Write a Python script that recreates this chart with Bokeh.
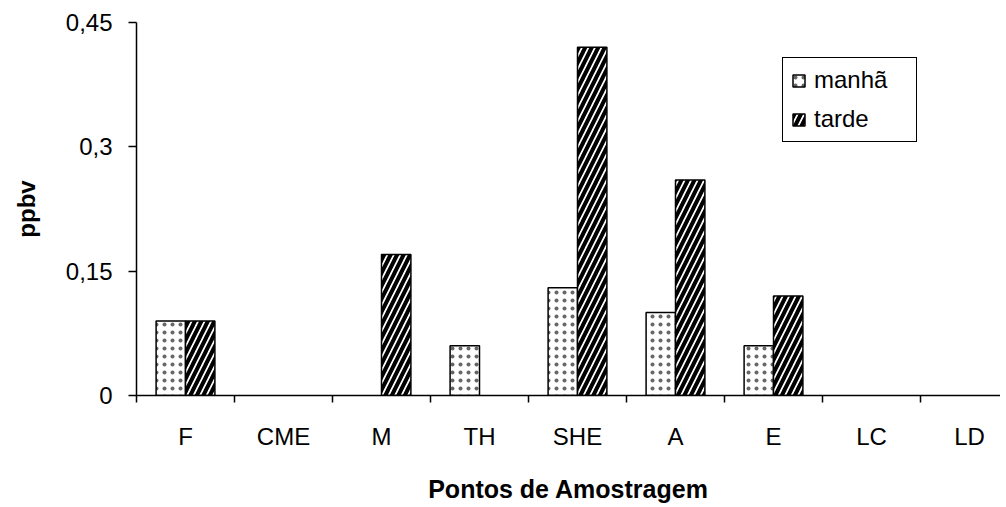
from bokeh.plotting import figure
from bokeh.models import FixedTicker, CustomJSTickFormatter, Range1d, Legend, LegendItem
from bokeh.embed import file_html
from bokeh.resources import INLINE

categories = ["F", "CME", "M", "TH", "SHE", "A", "E", "LC", "LD"]
manha = [0.09, 0.0, 0.0, 0.06, 0.13, 0.10, 0.06, 0.0, 0.0]
tarde = [0.09, 0.0, 0.17, 0.0, 0.42, 0.26, 0.12, 0.0, 0.0]
y_ticks = [0, 0.15, 0.3, 0.45]

FONT = "Liberation Sans"
W, H = 1000, 505
LEFT, TOP, FRAME_H = 136, 22, 375
cat_px = 98.0
x_end = (W - LEFT) / cat_px

p = figure(width=W, height=H, output_backend="svg", toolbar_location=None,
           x_range=Range1d(0, x_end), y_range=Range1d(0, 0.45),
           min_border_left=LEFT, min_border_right=0, min_border_top=TOP,
           min_border_bottom=H - TOP - FRAME_H)
p.outline_line_color = None
p.xgrid.grid_line_color = None
p.ygrid.grid_line_color = None
p.background_fill_color = "white"
p.border_fill_color = "white"

centers = [i + 0.5 for i in range(len(categories))]
bw = 0.3
mx = [c - bw / 2 for c, v in zip(centers, manha) if v > 0]
mv = [v for v in manha if v > 0]
tx = [c + bw / 2 for c, v in zip(centers, tarde) if v > 0]
tv = [v for v in tarde if v > 0]

r1 = p.vbar(x=mx, top=mv, width=bw, bottom=0, fill_color="white", line_color="black", line_width=1.5,
            hatch_pattern=".", hatch_scale=8, hatch_weight=1, hatch_color="black", hatch_alpha=0.6)
r2 = p.vbar(x=tx, top=tv, width=bw, bottom=0, fill_color="white", line_color="black", line_width=1.5,
            hatch_pattern="/", hatch_scale=13, hatch_weight=4, hatch_color="black")

legend = Legend(items=[LegendItem(label="manhã", renderers=[r1]), LegendItem(label="tarde", renderers=[r2])],
                location=(646, 253), border_line_color="black", border_line_width=1.5, border_line_alpha=1,
                label_text_font=FONT, label_text_font_size="24px", label_text_color="black",
                glyph_width=15, glyph_height=15, label_width=94,
                label_height=28, spacing=11, padding=8, margin=0, label_standoff=8,
                background_fill_alpha=1)
p.add_layout(legend)

# y axis
ya = p.yaxis[0]
ya.ticker = FixedTicker(ticks=y_ticks, minor_ticks=[])
ya.formatter = CustomJSTickFormatter(code="return tick.toString().replace('.', ',');")
ya.axis_label = "ppbv"
ya.axis_label_text_font = FONT
ya.axis_label_text_font_style = "bold"
ya.axis_label_text_font_size = "24px"
ya.axis_label_text_color = "black"
ya.axis_label_standoff = 23
ya.major_label_text_font = FONT
ya.major_label_text_font_size = "24px"
ya.major_label_text_color = "black"
ya.major_label_standoff = 16
ya.major_tick_out = 8
ya.major_tick_in = 0
ya.major_tick_line_width = 1.5
ya.major_tick_line_color = "black"
ya.axis_line_width = 1.5
ya.axis_line_color = "black"
ya.minor_tick_line_color = None

# x axis
xa = p.xaxis[0]
xa.ticker = FixedTicker(ticks=centers, minor_ticks=list(range(len(categories) + 1)))
xa.formatter = CustomJSTickFormatter(args=dict(labels=categories), code="return labels[Math.floor(tick)];")
xa.axis_label = "Pontos de Amostragem"
xa.axis_label_text_font = FONT
xa.axis_label_text_font_style = "bold"
xa.axis_label_text_font_size = "25px"
xa.axis_label_text_color = "black"
xa.axis_label_standoff = 22
xa.major_label_text_font = FONT
xa.major_label_text_font_size = "24px"
xa.major_label_text_color = "black"
xa.major_label_standoff = 20
xa.major_tick_line_color = None
xa.major_tick_out = 0
xa.major_tick_in = 0
xa.minor_tick_out = 7
xa.minor_tick_in = 0
xa.minor_tick_line_width = 1.5
xa.minor_tick_line_color = "black"
xa.axis_line_width = 1.5
xa.axis_line_color = "black"

open("out.html", "w").write(file_html(p, INLINE))
